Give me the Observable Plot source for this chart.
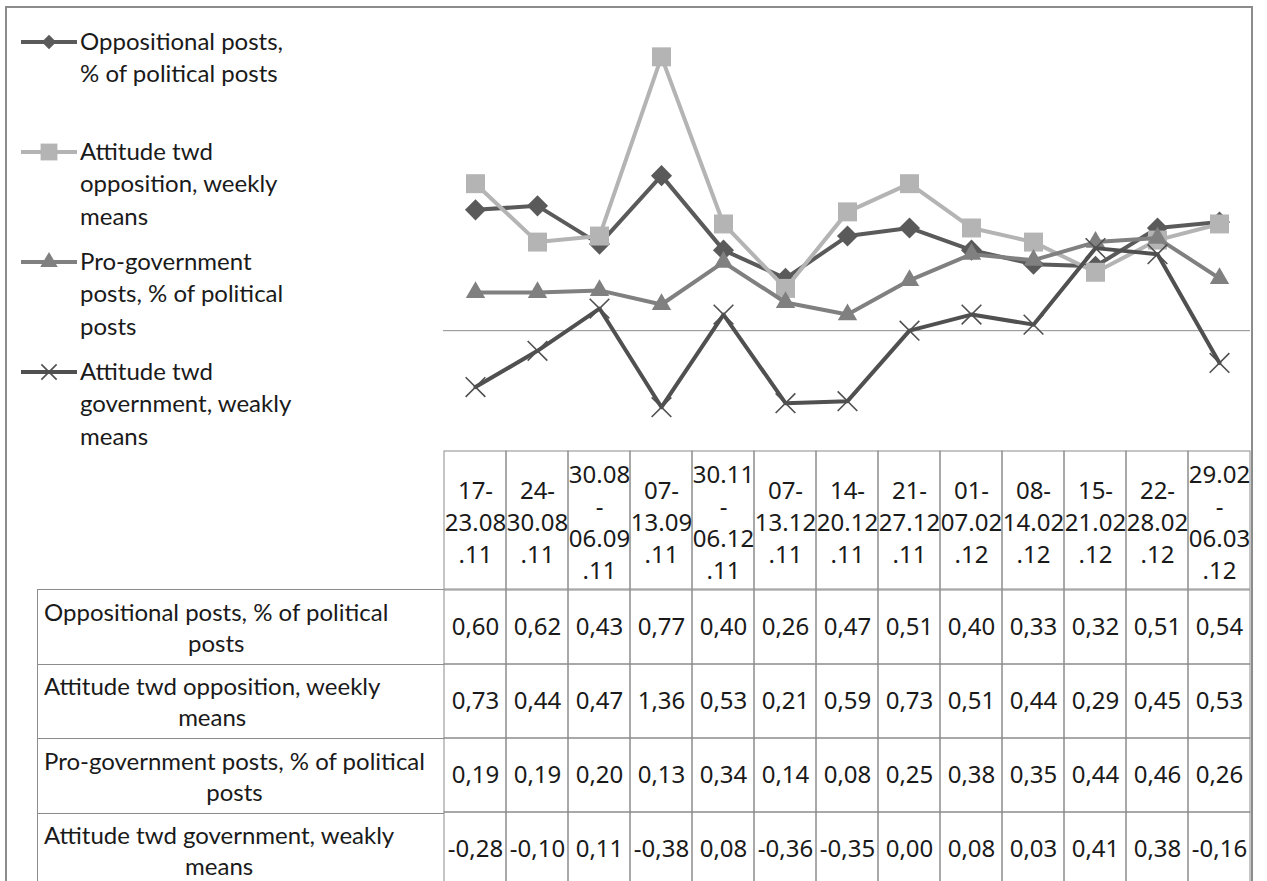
<!DOCTYPE html>
<html><head><meta charset="utf-8">
<script src="https://cdn.jsdelivr.net/npm/d3@7"></script>
<script src="https://cdn.jsdelivr.net/npm/@observablehq/plot@0.6"></script>
<style>
html,body{margin:0;padding:0;background:#fff;overflow:hidden;width:1267px;height:881px;}
#root{position:relative;width:1267px;height:881px;overflow:hidden;font-family:Lato, "Open Sans", sans-serif;color:#1a1a1a;font-size:24px;}
#frame{position:absolute;left:5px;top:6px;width:1244px;height:1000px;border:2px solid #8c8c8c;box-sizing:content-box;}
.abs{position:absolute;}
.rowlab{position:absolute;left:37px;width:407px;box-sizing:border-box;border-top:1px solid #8c8c8c;border-left:1px solid #8c8c8c;display:flex;align-items:center;}
.rowlab span{display:inline-block;text-align:center;margin-left:6px;line-height:31px;white-space:nowrap;}
.leg{position:absolute;left:80px;line-height:32.5px;white-space:nowrap;}
svg{overflow:visible;}
</style></head><body><div id="root"><div id="frame"></div></div>
<script>
// ---------- data ----------
const weeks = ["17-23.08.11","24-30.08.11","30.08-06.09.11","07-13.09.11","30.11-06.12.11","07-13.12.11","14-20.12.11","21-27.12.11","01-07.02.12","08-14.02.12","15-21.02.12","22-28.02.12","29.02-06.03.12"];
const seriesNames = ["Oppositional posts, % of political posts","Attitude twd opposition, weekly means","Pro-government posts, % of political posts","Attitude twd government, weakly means"];
const oppositional = [0.60,0.62,0.43,0.77,0.40,0.26,0.47,0.51,0.40,0.33,0.32,0.51,0.54];
const attitudeOpp  = [0.73,0.44,0.47,1.36,0.53,0.21,0.59,0.73,0.51,0.44,0.29,0.45,0.53];
const proGov       = [0.19,0.19,0.20,0.13,0.34,0.14,0.08,0.25,0.38,0.35,0.44,0.46,0.26];
const attitudeGov  = [-0.28,-0.10,0.11,-0.38,0.08,-0.36,-0.35,0.00,0.08,0.03,0.41,0.38,-0.16];
const legendLabels = [["Oppositional posts,","% of political posts"],["Attitude twd","opposition, weekly","means"],["Pro-government","posts, % of political","posts"],["Attitude twd","government, weakly","means"]];
const rowLabels = [["Oppositional posts, % of political","posts"],["Attitude twd opposition, weekly","means"],["Pro-government posts, % of political","posts"],["Attitude twd government, weakly","means"]];

// ---------- styles ----------
const seriesValues = [oppositional, attitudeOpp, proGov, attitudeGov];
const colors = ["#5a5a5a","#b4b4b4","#808080","#505050"];
const symbols = ["diamond2","square","triangle","times"];
const radii = [9.5, 10.7, 7.2, 9];
const legendRadii = [6.5, 9.5, 6.5, 7];
const gridColor = "#8c8c8c";
const FS = 24;

const long = [];
seriesValues.forEach((vals, s) => vals.forEach((v, i) => long.push({s, series: seriesNames[s], week: weeks[i], value: v})));

const locale = d3.formatLocale({decimal: ",", thousands: " ", grouping: [3], currency: ["", ""], minus: "-"});
const fmt = locale.format(".2f");
function wrapWeek(w) {
  const k = w.indexOf("-");
  const a = w.slice(0, k), b = w.slice(k + 1);
  const lines = a.length <= 2 ? [a + "-"] : [a, "-"];
  const j = b.lastIndexOf(".");
  lines.push(b.slice(0, j), b.slice(j));
  return lines.join("\n");
}

const root = document.getElementById("root");
function place(el, left, top) { el.style.position = "absolute"; el.style.left = left + "px"; el.style.top = top + "px"; root.appendChild(el); }

// ---------- chart ----------
const chartMarks = [Plot.ruleY([0], {stroke: gridColor, strokeWidth: 1})];
seriesNames.forEach((name, s) => {
  const d = long.filter(r => r.s === s);
  chartMarks.push(Plot.line(d, {x: "week", y: "value", stroke: colors[s], strokeWidth: 4}));
  if (symbols[s] === "times")
    chartMarks.push(Plot.dot(d, {x: "week", y: "value", symbol: "times", r: radii[s], stroke: colors[s], strokeWidth: 1.6, fill: "none"}));
  else
    chartMarks.push(Plot.dot(d, {x: "week", y: "value", symbol: symbols[s], r: radii[s], fill: colors[s], stroke: "none"}));
});
const chart = Plot.plot({
  width: 1267, height: 451,
  marginLeft: 443, marginRight: 17, marginTop: 8, marginBottom: 0,
  x: {type: "point", domain: weeks, range: [444, 1250], padding: 0.5, axis: null},
  y: {domain: [-0.6, 1.6], range: [451, 8], axis: null},
  marks: chartMarks
});
place(chart, 0, 0);

// ---------- table header ----------
const header = Plot.plot({
  width: 1267, height: 138,
  marginLeft: 444, marginRight: 17, marginTop: 0, marginBottom: 0,
  x: {type: "band", domain: weeks, padding: 0, axis: null},
  marks: [
    Plot.cell(weeks, {x: d => d, stroke: gridColor, fill: "none", strokeWidth: 1}),
    Plot.text(weeks, {x: d => d, text: d => wrapWeek(d), fontSize: FS, lineHeight: 32 / FS, fill: "#1a1a1a"})
  ]
});
place(header, 0, 451);

// ---------- table body ----------
const body = Plot.plot({
  width: 1267, height: 298,
  marginLeft: 444, marginRight: 17, marginTop: 0, marginBottom: 0,
  x: {type: "band", domain: weeks, padding: 0, axis: null},
  y: {type: "band", domain: seriesNames, padding: 0, axis: null},
  marks: [
    Plot.cell(long, {x: "week", y: "series", stroke: gridColor, fill: "none", strokeWidth: 1}),
    Plot.text(long, {x: "week", y: "series", text: d => fmt(d.value), fontSize: FS, fill: "#1a1a1a"})
  ]
});
place(body, 0, 589);

// row labels (left column)
const rowH = 298 / seriesNames.length;
rowLabels.forEach((lines, i) => {
  const div = document.createElement("div");
  div.className = "rowlab";
  div.style.top = (589 + i * rowH) + "px";
  div.style.height = rowH + "px";
  const span = document.createElement("span");
  span.innerHTML = lines.join("<br>");
  div.appendChild(span);
  root.appendChild(div);
});

// ---------- legend ----------
legendLabels.forEach((lines, i) => {
  const cy = 42 + 110 * i;
  const t = document.createElement("div");
  t.className = "leg";
  t.style.top = (cy - 16.25 - 1) + "px";
  t.innerHTML = lines.join("<br>");
  root.appendChild(t);
  const svg = d3.create("svg").attr("width", 58).attr("height", 24);
  svg.append("line").attr("x1", 1).attr("x2", 57).attr("y1", 12).attr("y2", 12).attr("stroke", colors[i]).attr("stroke-width", 4);
  const symType = {diamond2: d3.symbolDiamond2, square: d3.symbolSquare, triangle: d3.symbolTriangle, times: d3.symbolTimes}[symbols[i]];
  const p = svg.append("path").attr("transform", "translate(29,12)")
    .attr("d", d3.symbol(symType, Math.PI * legendRadii[i] ** 2)());
  if (symbols[i] === "times") p.attr("fill", "none").attr("stroke", colors[i]).attr("stroke-width", 1.6);
  else p.attr("fill", colors[i]);
  const node = svg.node();
  node.style.position = "absolute"; node.style.left = "20px"; node.style.top = (cy - 12) + "px";
  root.appendChild(node);
});
</script></body></html>
